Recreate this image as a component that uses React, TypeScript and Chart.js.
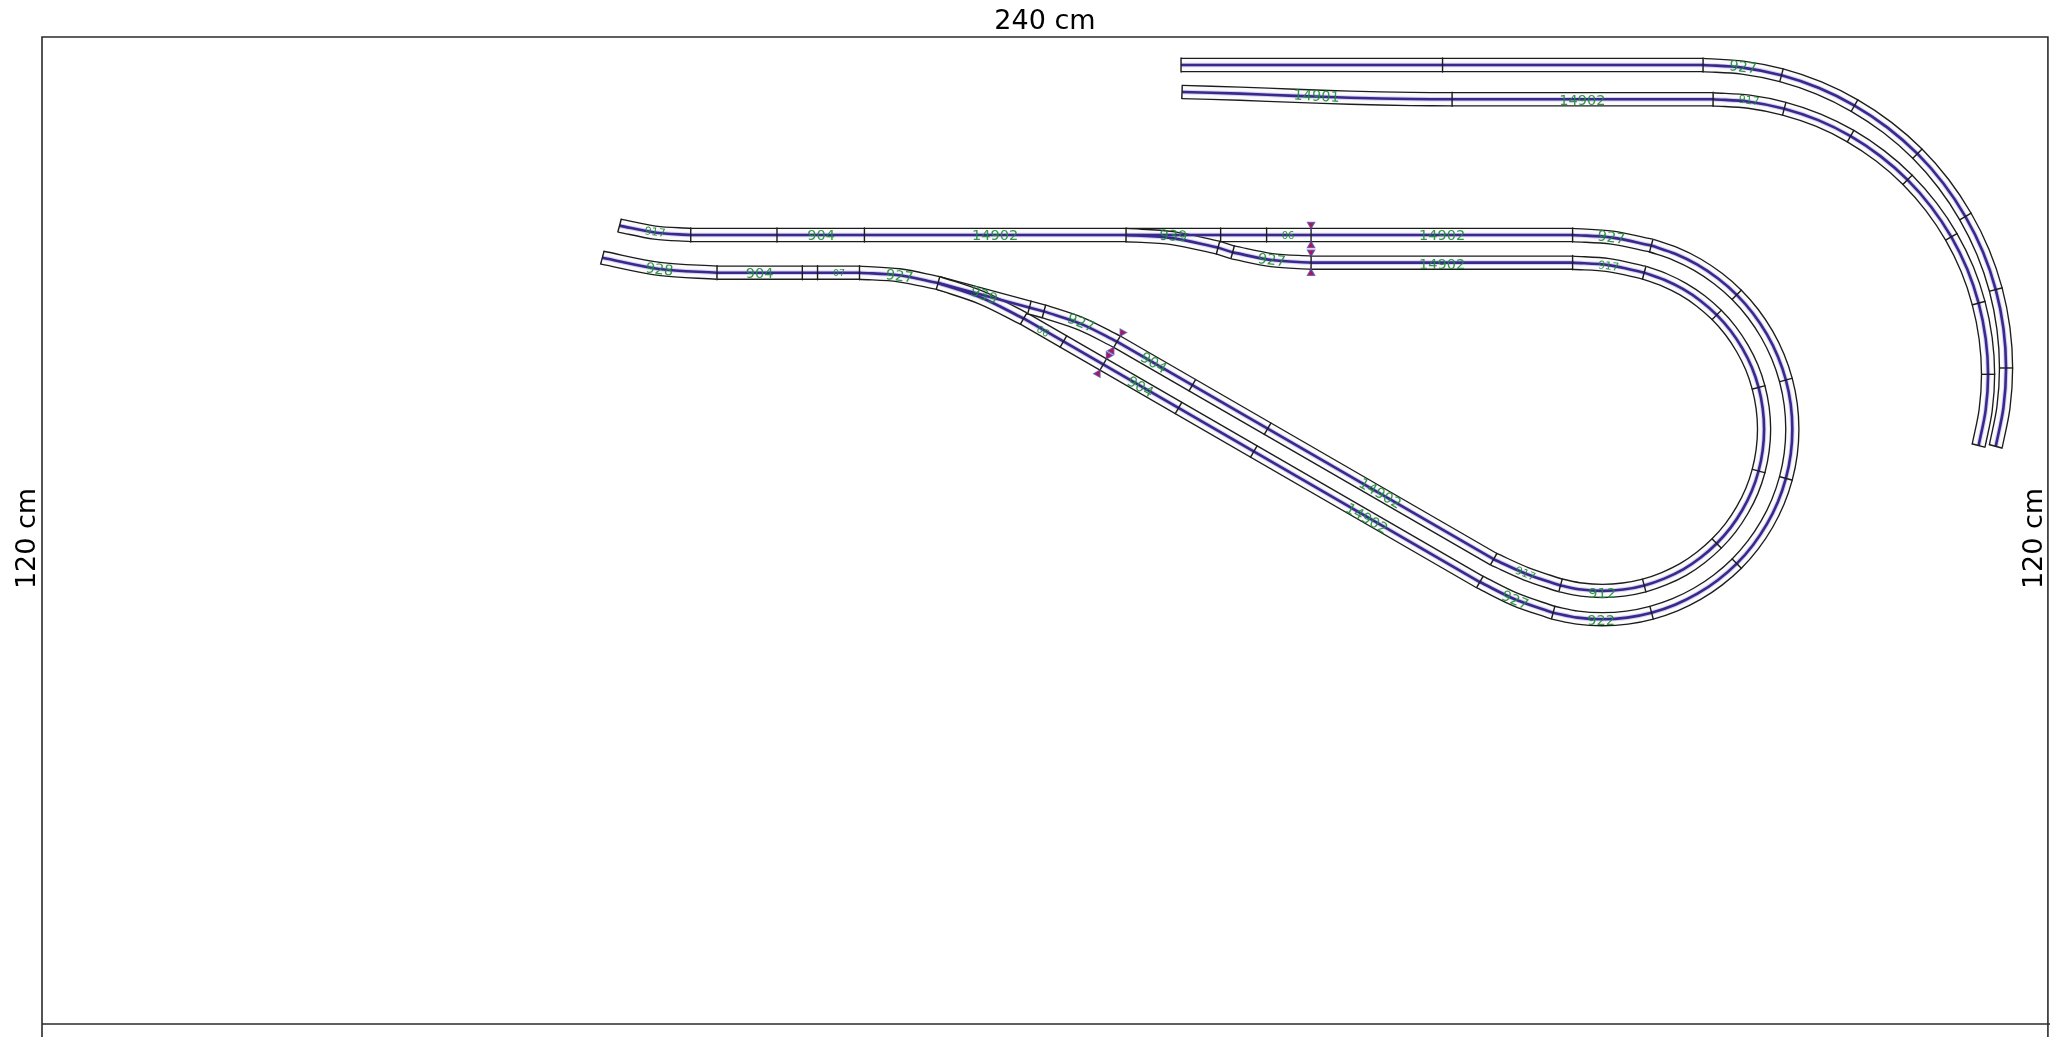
import React, { useEffect, useRef } from "react";
import { Chart, registerables } from "chart.js";

Chart.register(...registerables);

type Pt = [number, number];

// Board outline, in centimetres (y grows downwards, as on the plan)
const boardOutline: Pt[] = [[0, 120], [0, 0], [240, 0], [240, 120]];
const boardLower: Pt[] = [[0, 118.09], [240.25, 118.09]];

// Straight runs of track (cm)
const topOuterStraight: Pt[] = [[136.28, 3.35], [198.74, 3.35]];
const topInnerStraight: Pt[] = [[168.71, 7.45], [199.94, 7.45]];
const midUpperStraight: Pt[] = [[77.62, 23.69], [183.13, 23.69]];
const midLowerStraight: Pt[] = [[151.84, 27.0], [183.13, 27.0]];
const lowLeftStraight: Pt[] = [[80.76, 28.2], [97.81, 28.2]];
const diagLower: Pt[] = [[117.45, 33.68], [172.03, 65.21]];
const diagUpper: Pt[] = [[128.62, 36.46], [173.68, 62.48]];
const switchLowerStraight: Pt[] = [[107.21, 29.43], [119.88, 32.83]];
const shortLink: Pt[] = [[142.45, 25.77], [140.71, 25.2]];

// Curved runs of track (cm)
const topEasing: Pt[] = [[136.4, 6.58], [143.34, 6.78], [149.92, 7.04], [156.5, 7.26], [163.8, 7.42], [168.71, 7.45]];
const outerRightCurve: Pt[] = [[198.74, 3.35], [203.46, 3.66], [208.12, 4.58], [212.62, 6.11], [216.86, 8.21], [220.81, 10.84], [224.38, 13.96], [227.5, 17.53], [230.13, 21.48], [232.23, 25.72], [233.76, 30.22], [234.68, 34.88], [234.99, 39.6], [234.68, 44.33], [233.76, 48.98]];
const innerRightCurve: Pt[] = [[199.94, 7.45], [204.23, 7.74], [208.45, 8.58], [212.52, 9.95], [216.39, 11.86], [219.96, 14.25], [223.21, 17.09], [226.04, 20.33], [228.44, 23.91], [230.34, 27.77], [231.71, 31.84], [232.55, 36.06], [232.84, 40.36], [232.55, 44.65], [231.71, 48.88]];
const midLeftEnd: Pt[] = [[69.1, 22.57], [73.32, 23.4], [77.62, 23.69]];
const lowLeftEnd: Pt[] = [[67.04, 26.41], [73.85, 27.75], [80.76, 28.2]];
const lowLeftBend: Pt[] = [[97.81, 28.2], [102.54, 28.51], [107.21, 29.43]];
const outerEntry: Pt[] = [[183.13, 23.69], [187.86, 24.0], [192.54, 24.95]];
const outerLoop: Pt[] = [[192.54, 24.95], [195.39, 25.93], [198.06, 27.24], [200.53, 28.9], [202.77, 30.85], [204.72, 33.08], [206.37, 35.56], [207.69, 38.23], [208.65, 41.04], [209.23, 43.96], [209.42, 46.93], [209.23, 49.89], [208.65, 52.81], [207.69, 55.63], [206.37, 58.29], [204.72, 60.77], [202.77, 63.01], [200.53, 64.96], [198.06, 66.61], [195.39, 67.93], [192.58, 68.88], [189.66, 69.47], [186.69, 69.66], [183.72, 69.47], [180.8, 68.88]];
const outerExit: Pt[] = [[180.8, 68.88], [176.28, 67.3], [172.03, 65.21]];
const innerEntry: Pt[] = [[183.13, 27.0], [187.43, 27.29], [191.7, 28.19]];
const innerLoop: Pt[] = [[191.7, 28.19], [194.09, 29.05], [196.37, 30.18], [198.46, 31.58], [200.37, 33.25], [202.04, 35.15], [203.44, 37.26], [204.57, 39.52], [205.38, 41.93], [205.87, 44.4], [206.04, 46.93], [205.87, 49.45], [205.38, 51.93], [204.57, 54.33], [203.44, 56.59], [202.04, 58.7], [200.37, 60.6], [198.46, 62.28], [196.37, 63.7], [194.09, 64.8], [191.7, 65.62], [189.21, 66.11], [186.69, 66.27], [184.17, 66.11], [181.68, 65.62]];
const innerExit: Pt[] = [[181.68, 65.62], [177.61, 64.24], [173.68, 62.48]];
const diagUpperBend: Pt[] = [[119.88, 32.83], [124.38, 34.35], [128.62, 36.46]];
const midLowerBend: Pt[] = [[151.84, 27.0], [147.11, 26.69], [142.45, 25.77]];
const upperSwitchBranch: Pt[] = [[140.71, 25.2], [135.24, 24.06], [129.7, 23.69]];
const lowerSwitchBranch: Pt[] = [[117.45, 33.68], [112.47, 31.22], [107.21, 29.43]];

const straightRuns: Pt[][] = [topOuterStraight, topInnerStraight, midUpperStraight, midLowerStraight, lowLeftStraight, diagLower, diagUpper, switchLowerStraight, shortLink];
const curvedRuns: Pt[][] = [topEasing, outerRightCurve, innerRightCurve, midLeftEnd, lowLeftEnd, lowLeftBend, outerEntry, outerLoop, outerExit, innerEntry, innerLoop, innerExit, diagUpperBend, midLowerBend, upperSwitchBranch, lowerSwitchBranch];

// Joints between pieces: x, y, track heading in degrees
const joints: [number, number, number][] = [
  [136.28, 3.35, 0], [167.57, 3.35, 0], [198.74, 3.35, 0], [208.12, 4.58, 15], [216.86, 8.21, 30], [224.38, 13.96, 45], [230.13, 21.48, 60], [233.76, 30.22, 75], [234.99, 39.6, 90], [233.76, 48.98, 105],
  [136.4, 6.58, 2], [168.71, 7.45, 0], [199.94, 7.45, 0], [208.45, 8.58, 15], [216.39, 11.86, 30], [223.21, 17.09, 45], [228.44, 23.91, 60], [231.71, 31.84, 75], [232.84, 40.36, 90], [231.71, 48.88, 105],
  [69.1, 22.57, 15], [77.62, 23.69, 0], [87.94, 23.69, 0], [98.4, 23.69, 0], [129.7, 23.69, 0], [141.02, 23.69, 0], [146.52, 23.69, 0], [183.13, 23.69, 0],
  [192.54, 24.95, 15], [202.77, 30.85, 45], [208.65, 41.04, 75], [208.65, 52.81, 105], [202.77, 63.01, 135], [192.58, 68.88, 165], [180.8, 68.88, 15], [172.03, 65.21, 30],
  [144.99, 49.59, 30], [135.98, 44.39, 30], [122.21, 36.43, 30], [117.45, 33.68, 30], [118.14, 32.36, 15], [119.88, 32.83, 15], [107.21, 29.43, 15],
  [137.63, 41.66, 30], [146.64, 46.87, 30], [173.68, 62.48, 30], [181.68, 65.62, 15], [191.7, 65.62, 165], [200.37, 60.6, 135], [205.38, 51.93, 105], [205.38, 41.93, 75], [200.37, 33.25, 45], [191.7, 28.19, 15],
  [183.13, 27.0, 0], [142.45, 25.77, 15], [140.71, 25.2, 15],
  [67.04, 26.41, 15], [80.76, 28.2, 0], [90.97, 28.2, 0], [92.79, 28.2, 0], [97.81, 28.2, 0],
];

// Block separators: x, y, track heading
const separators: [number, number, number][] = [
  [151.84, 23.69, 0], [151.84, 27.0, 0], [128.62, 36.46, 30], [126.97, 39.19, 30],
];

// Piece numbers: text, x, y, angle, font size
const pieceLabels: [string, number, number, number, number][] = [
  ["927", 203.52, 3.59, 7.5, 14.5], ["14901", 152.5, 7.06, 3, 14.5], ["14902", 184.3, 7.54, 0, 14.5], ["917", 204.24, 7.54, 7.5, 11],
  ["927", 187.77, 23.97, 7.5, 14.5], ["14902", 167.51, 23.73, 0, 14.5], ["06", 149.08, 23.77, 0, 10], ["939", 135.36, 23.77, 3, 14.5],
  ["14902", 167.51, 27.16, 0, 14.5], ["917", 187.43, 27.36, 7.5, 11], ["927", 147.13, 26.68, 7.5, 14.5],
  ["917", 73.35, 23.3, 7.5, 11], ["904", 93.21, 23.69, 0, 14.5], ["14902", 114.03, 23.69, 0, 14.5],
  ["928", 73.88, 27.79, 7.5, 14.5], ["904", 85.85, 28.27, 0, 14.5], ["07", 95.36, 28.2, 0, 9.5], ["927", 102.61, 28.6, 7.5, 14.5],
  ["939", 112.71, 30.87, 20, 14.5], ["06", 119.77, 35.18, 30, 10], ["927", 124.31, 34.18, 22.5, 14.5],
  ["904", 133.01, 38.97, 30, 14.5], ["904", 131.41, 41.84, 30, 14.5], ["14902", 160.09, 54.6, 30, 14.5], ["14902", 158.5, 57.59, 30, 14.5],
  ["917", 177.5, 64.17, 22.5, 11], ["912", 186.65, 66.56, 0, 14.5], ["927", 176.24, 67.36, 22.5, 14.5], ["922", 186.53, 69.84, 0, 14.5],
];

// Board dimension captions: text, x, y, angle
const dimensionLabels: [string, number, number, number][] = [
  ["240 cm", 120, -1.75, 0], ["120 cm", -1.72, 60, -90], ["120 cm", 238.41, 60, -90],
];

const PX_PER_CM = 8.358;
const TRACK_WIDTH = 14.5;
const JOINT_HALF = 0.85;
const SEP_HALF = 1.26;

const xy = (p: Pt) => ({ x: p[0], y: p[1] });

function buildDatasets(): any[] {
  const base = { showLine: true, pointRadius: 0, pointHoverRadius: 0, borderCapStyle: "butt", borderJoinStyle: "round", fill: false };
  const out: any[] = [];
  const runs: [Pt[], number][] = [
    ...straightRuns.map((r): [Pt[], number] => [r, 0]),
    ...curvedRuns.map((r): [Pt[], number] => [r, 0.33]),
  ];
  runs.forEach(([run, tension], i) => {
    const data = run.map(xy);
    const t = { tension, capBezierPoints: false };
    out.push({ ...base, ...t, data, borderColor: "#1c1c1c", borderWidth: TRACK_WIDTH, order: 1000 - 3 * i });
    out.push({ ...base, ...t, data, borderColor: "#fbfbfb", borderWidth: TRACK_WIDTH - 2.7, order: 999 - 3 * i });
    out.push({ ...base, ...t, data, borderColor: "rgba(130,120,205,0.32)", borderWidth: 4.6, order: 100 });
    out.push({ ...base, ...t, data, borderColor: "#38288f", borderWidth: 2.6, order: 90 });
  });
  joints.forEach(([x, y, h]) => {
    const a = (h * Math.PI) / 180;
    const nx = -Math.sin(a) * JOINT_HALF;
    const ny = Math.cos(a) * JOINT_HALF;
    out.push({ ...base, tension: 0, data: [{ x: x - nx, y: y - ny }, { x: x + nx, y: y + ny }], borderColor: "#1c1c1c", borderWidth: 1.4, order: 50 });
  });
  [boardOutline, boardLower].forEach((line) => {
    out.push({ ...base, tension: 0, data: line.map(xy), borderColor: "#2a2a2a", borderWidth: 1.6, borderJoinStyle: "miter", order: 40 });
  });
  separators.forEach(([x, y, h]) => {
    const a = (h * Math.PI) / 180;
    const nx = -Math.sin(a) * SEP_HALF;
    const ny = Math.cos(a) * SEP_HALF;
    out.push({
      ...base,
      tension: 0,
      data: [{ x: x - nx, y: y - ny }, { x: x + nx, y: y + ny }],
      borderColor: "#222222",
      borderWidth: 1.4,
      pointStyle: "triangle",
      pointRadius: 4,
      pointRotation: [h + 180, h],
      pointBackgroundColor: "#c0103c",
      pointBorderColor: "rgba(90,70,180,0.8)",
      pointBorderWidth: 1.4,
      order: 10,
    });
  });
  return out;
}

const textPlugin = {
  id: "planText",
  afterDatasetsDraw(chart: any) {
    const { ctx, scales } = chart;
    const put = (t: string, x: number, y: number, deg: number, font: string, color: string, dy: number) => {
      ctx.save();
      ctx.translate(scales.x.getPixelForValue(x), scales.y.getPixelForValue(y));
      ctx.rotate((deg * Math.PI) / 180);
      ctx.font = font;
      ctx.fillStyle = color;
      ctx.textAlign = "center";
      ctx.textBaseline = "middle";
      ctx.fillText(t, 0, dy);
      ctx.restore();
    };
    pieceLabels.forEach(([t, x, y, deg, size]) => put(t, x, y, deg, `${size}px "DejaVu Sans"`, "rgba(30,140,55,0.9)", 1));
    dimensionLabels.forEach(([t, x, y, deg]) => put(t, x, y, deg, `27px "DejaVu Sans"`, "#000000", 0));
  },
};

export default function App() {
  const ref = useRef<HTMLCanvasElement | null>(null);
  useEffect(() => {
    if (!ref.current) return;
    const chart = new Chart(ref.current, {
      type: "line",
      data: { datasets: buildDatasets() },
      plugins: [textPlugin],
      options: {
        animation: false,
        responsive: false,
        maintainAspectRatio: false,
        devicePixelRatio: 1,
        layout: { padding: 0, autoPadding: false },
        events: [],
        plugins: { legend: { display: false }, tooltip: { enabled: false }, title: { display: false } },
        scales: {
          x: { type: "linear", display: false, min: -42 / PX_PER_CM, max: (2060 - 42) / PX_PER_CM },
          y: { type: "linear", display: false, reverse: true, min: -37 / PX_PER_CM, max: (1037 - 37) / PX_PER_CM },
        },
      },
    } as any);
    return () => chart.destroy();
  }, []);
  return (
    <div style={{ position: "fixed", left: 0, top: 0, width: 2060, height: 1037, background: "#ffffff" }}>
      <canvas ref={ref} width={2060} height={1037} style={{ display: "block", width: 2060, height: 1037 }} />
    </div>
  );
}
